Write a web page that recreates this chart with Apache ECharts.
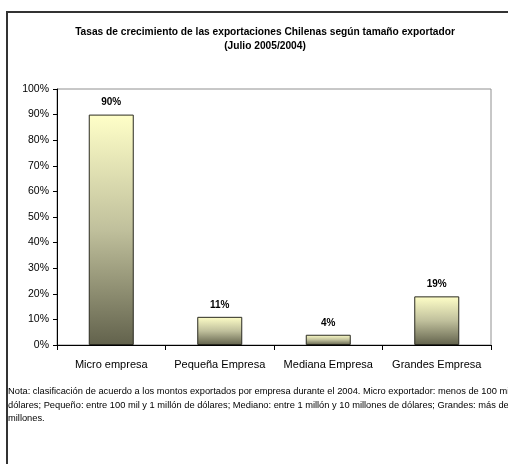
<!DOCTYPE html>
<html>
<head>
<meta charset="utf-8">
<script src="https://cdn.jsdelivr.net/npm/echarts@6/dist/echarts.min.js"></script>
<style>html,body{margin:0;padding:0;background:#fff;}#c{width:508px;height:464px;}</style>
</head>
<body>
<div id="c"></div>
<script>
var categories = ['Micro empresa', 'Pequeña Empresa', 'Mediana Empresa', 'Grandes Empresa'];
var values = [90, 11, 4, 19];
var titleLines = ['Tasas de crecimiento de las exportaciones Chilenas según tamaño exportador', '(Julio 2005/2004)'];
var noteLines = [
  'Nota: clasificación de acuerdo a los montos exportados por empresa durante el 2004. Micro exportador: menos de 100 mil',
  'dólares; Pequeño: entre 100 mil y 1 millón de dólares; Mediano: entre 1 millón y 10 millones de dólares; Grandes: más de 10',
  'millones.'
];
var FONT = 'Liberation Sans, Arial, sans-serif';
var chart = echarts.init(document.getElementById('c'), null, {renderer: 'canvas'});
chart.setOption({
  animation: false,
  backgroundColor: '#ffffff',
  title: {
    text: titleLines.join('\n'),
    left: 260, top: 20, textAlign: 'center',
    textStyle: {fontFamily: FONT, fontSize: 10.2, fontWeight: 'bold', color: '#000', lineHeight: 14}
  },
  grid: {left: 57, right: 17, top: 89, bottom: 119, show: true, borderColor: '#909090', borderWidth: 1, backgroundColor: 'transparent'},
  xAxis: {
    type: 'category', data: categories,
    axisLine: {lineStyle: {color: '#000', width: 1}},
    axisTick: {show: true, interval: 0, length: 5, lineStyle: {color: '#000'}},
    axisLabel: {interval: 0, fontFamily: FONT, fontSize: 11, color: '#000', margin: 14}
  },
  yAxis: {
    type: 'value', min: 0, max: 100, interval: 10,
    axisLine: {show: true, lineStyle: {color: '#000', width: 1}},
    axisTick: {show: true, length: 4, lineStyle: {color: '#000'}},
    splitLine: {show: false},
    axisLabel: {fontFamily: FONT, fontSize: 10.5, color: '#000', margin: 8, formatter: '{value}%'}
  },
  series: [{
    type: 'bar', data: values, barWidth: 45,
    itemStyle: {
      borderColor: '#2a2a20', borderWidth: 1,
      color: new echarts.graphic.LinearGradient(0, 0, 0, 1, [
        {offset: 0, color: '#ffffc8'},
        {offset: 0.5, color: '#c0c09c'},
        {offset: 1, color: '#62624c'}
      ])
    },
    label: {show: true, position: 'top', distance: 7, formatter: '{c}%', fontFamily: FONT, fontSize: 10, fontWeight: 'bold', color: '#000'}
  }],
  graphic: [
    {type: 'rect', silent: true, shape: {x: 7, y: 12, width: 520, height: 480}, style: {fill: 'none', stroke: '#333333', lineWidth: 2}, z: 100},
    {type: 'text', left: 8, top: 385, silent: true, style: {text: noteLines.join('\n'), fontFamily: FONT, fontSize: 9.3, lineHeight: 13.5, fill: '#000'}}
  ]
});
</script>
</body>
</html>
